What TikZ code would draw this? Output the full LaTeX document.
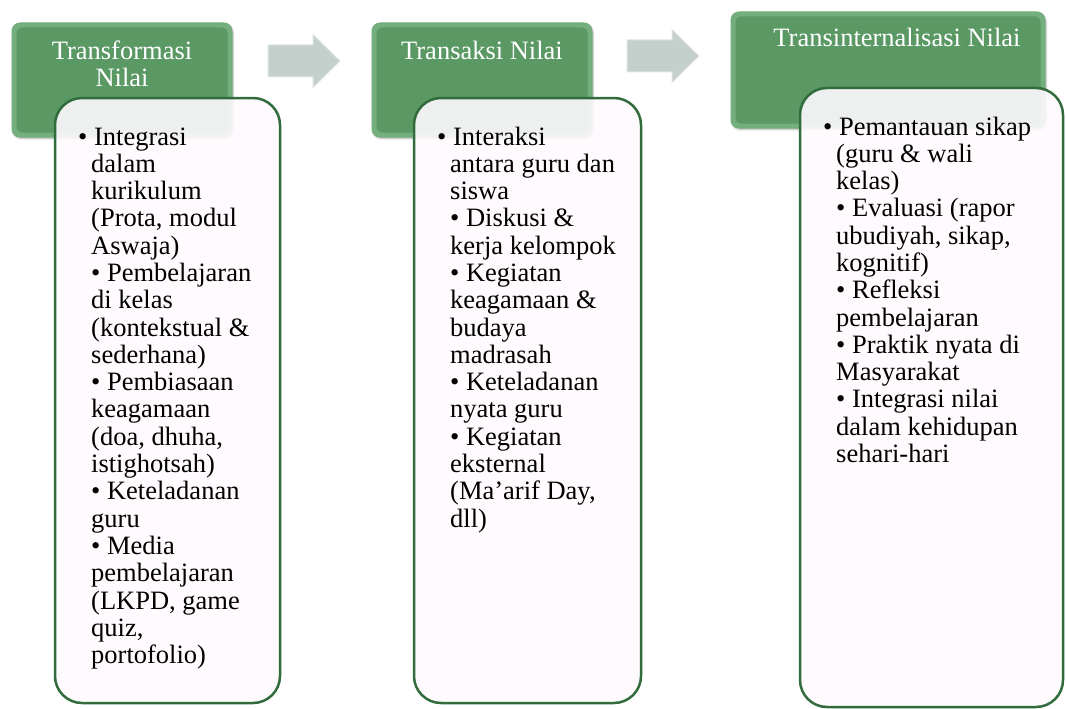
\documentclass[tikz,border=0pt]{standalone}
\usepackage{fontspec}
\setmainfont{Liberation Serif}          % largeurs de Times New Roman
\usepackage{tikz}
\usetikzlibrary{positioning,            % placement relatif
           shadows.blur}                % ombres douces
\definecolor{vert}{RGB}{90,152,100}
\definecolor{vertclair}{RGB}{116,174,124}
\definecolor{vertfonce}{RGB}{50,108,60}
\definecolor{fond}{RGB}{254,250,254}
\definecolor{gris}{RGB}{196,208,203}
\newcommand{\liste}[1]{\parbox[t]{250pt}{\raggedright#1}}
\tikzset{entete/.style={rounded corners=8pt,fill=vertclair,draw=vertclair,line width=1pt,
    blur shadow={shadow blur steps=6,shadow xshift=1pt,shadow yshift=-1.5pt,shadow opacity=30}},
  face/.style={rounded corners=6pt,fill=vert},
  boite/.style={rounded corners=27pt,fill=fond,fill opacity=0.9,draw=vertfonce,line width=2.5pt,outer sep=0pt},
  titre/.style={inner sep=0pt,text=white,font=\fontsize{26.5}{27.3}\selectfont,anchor=base},
  texte/.style={inner sep=0pt,font=\fontsize{26.5}{27.3}\selectfont,anchor=base west},
  flechebloc/.style={fill=gris,draw=gris!55!white,line width=1pt}}

\begin{document}
\begin{tikzpicture}[x=1pt,y=-1pt]
\useasboundingbox(0,0)rectangle(1066,709);
% en-tetes
\node[entete,minimum width=220pt,minimum height=114pt](h1)at(122,80){};
\node[entete,minimum width=220pt,minimum height=114pt](h2)at(482,80){};
\node[entete,minimum width=314pt,minimum height=116pt](h3)at(888,70){};
\foreach \h in {h1,h2,h3}\fill[face]([shift={(5pt,-5pt)}]\h.north west)rectangle([shift={(-5pt,5pt)}]\h.south east);
\node[titre](n1)at([yshift=-37pt]h1.north){\parbox[t]{200pt}{\centering Transformasi\\Nilai}};
\node[titre](n2)at([yshift=-37pt]h2.north){Transaksi Nilai};
\node[titre](n3)at([xshift=9pt,yshift=-35pt]h3.north){Transinternalisasi Nilai};
% fleches
\foreach \x/\y in {268/61,627/56}\path[flechebloc](\x,\y-16)--++(45,0)--++(0,-10.5)--++(27,26.5)--++(-27,26.5)--++(0,-10.5)--++(-45,0)--cycle;
% boites
\node[boite,minimum width=225pt,minimum height=605pt](b1)at(167.5,400.5){};
\node[boite,minimum width=227pt,minimum height=605pt](b2)at(527.5,400.5){};
\node[boite,minimum width=263pt,minimum height=619pt](b3)at(931.5,397.5){};
\node[texte](l1)at([xshift=36pt,yshift=-47pt]b1.north west){\liste{\hspace*{-13pt}• Integrasi\\dalam\\kurikulum\\(Prota, modul\\Aswaja)\\• Pembelajaran\\di kelas\\(kontekstual \&\\sederhana)\\• Pembiasaan\\keagamaan\\(doa, dhuha,\\istighotsah)\\• Keteladanan\\guru\\• Media\\pembelajaran\\(LKPD, game\\quiz,\\portofolio)}};
\node[texte](l2)at([xshift=36pt,yshift=-47pt]b2.north west){\liste{\hspace*{-13pt}• Interaksi\\antara guru dan\\siswa\\• Diskusi \&\\kerja kelompok\\• Kegiatan\\keagamaan \&\\budaya\\madrasah\\• Keteladanan\\nyata guru\\• Kegiatan\\eksternal\\(Ma’arif Day,\\dll)}};
\node[texte](l3)at([xshift=36pt,yshift=-47pt]b3.north west){\liste{\hspace*{-13pt}• Pemantauan sikap\\(guru \& wali\\kelas)\\• Evaluasi (rapor\\ubudiyah, sikap,\\kognitif)\\• Refleksi\\pembelajaran\\• Praktik nyata di\\Masyarakat\\• Integrasi nilai\\dalam kehidupan\\sehari-hari}};
\end{tikzpicture}
\end{document}
